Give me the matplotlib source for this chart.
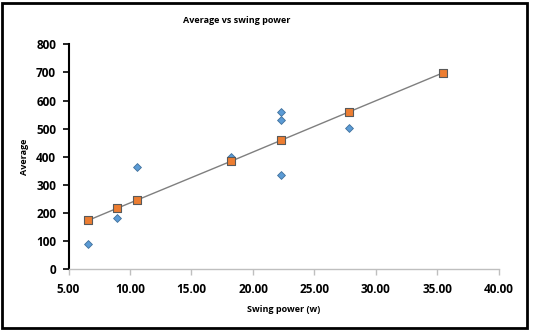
"""
Average vs swing power: measured values and the fitted line.
"""

import matplotlib.pyplot as plt
from matplotlib.patches import Rectangle

# Valores medidos (losangos azuis)
power_obs = [6.6, 8.95, 10.56, 18.2, 22.3, 22.3, 22.3, 27.83]
average_obs = [91, 181, 363, 400, 558, 532, 335, 504]

# Valores previstos pela reta (quadrados laranja)
power_fit = [6.6, 8.95, 10.56, 18.2, 22.3, 27.83, 35.42]
average_fit = [174, 217, 246, 384, 459, 560, 698]

x_ticks = [5, 10, 15, 20, 25, 30, 35, 40]
y_ticks = [0, 100, 200, 300, 400, 500, 600, 700, 800]

plt.rcParams["font.family"] = ["Open Sans", "DejaVu Sans"]

fig = plt.figure(figsize=(5.37, 3.36), dpi=100)
ax = fig.add_axes([0.1276, 0.1985, 0.8014, 0.6696])

# Moldura externa do gráfico
fig.patches.append(Rectangle((0.004, 0.024), 0.978, 0.967, transform=fig.transFigure,
                             fill=False, edgecolor="black", linewidth=2))

ax.plot(power_fit, average_fit, color="#7f7f7f", linewidth=1, zorder=2)
ax.scatter(power_obs, average_obs, marker="D", s=16, color="#5b9bd5",
           edgecolor="#41719c", linewidth=0.6, zorder=3)
ax.scatter(power_fit, average_fit, marker="s", s=28, color="#ed7d31",
           edgecolor="#595959", linewidth=0.8, zorder=4)

ax.set_xlim(5, 40)
ax.set_ylim(0, 800)
ax.set_xticks(x_ticks)
ax.set_xticklabels([f"{v:.2f}" for v in x_ticks])
ax.set_yticks(y_ticks)

for spine in ("top", "right"):
    ax.spines[spine].set_visible(False)
ax.spines["left"].set_linewidth(1.5)
ax.spines["left"].set_color("black")
ax.spines["bottom"].set_linewidth(1)
ax.spines["bottom"].set_color("#bfbfbf")

ax.tick_params(axis="y", length=4, width=1.2, color="black", pad=5, labelsize=8.5)
ax.tick_params(axis="x", length=4, width=1, color="#bfbfbf", pad=6, labelsize=8.5)
for lbl in ax.get_xticklabels() + ax.get_yticklabels():
    lbl.set_fontweight("bold")

ax.set_xlabel("Swing power (w)", fontsize=6.5, fontweight="bold", labelpad=6)
ax.set_ylabel("Average", fontsize=6.5, fontweight="bold", labelpad=5)
fig.text(0.44, 0.94, "Average vs swing power", fontsize=6.5, fontweight="bold",
         ha="center", va="center")

fig.savefig("out.png", dpi=100)
plt.close(fig)
